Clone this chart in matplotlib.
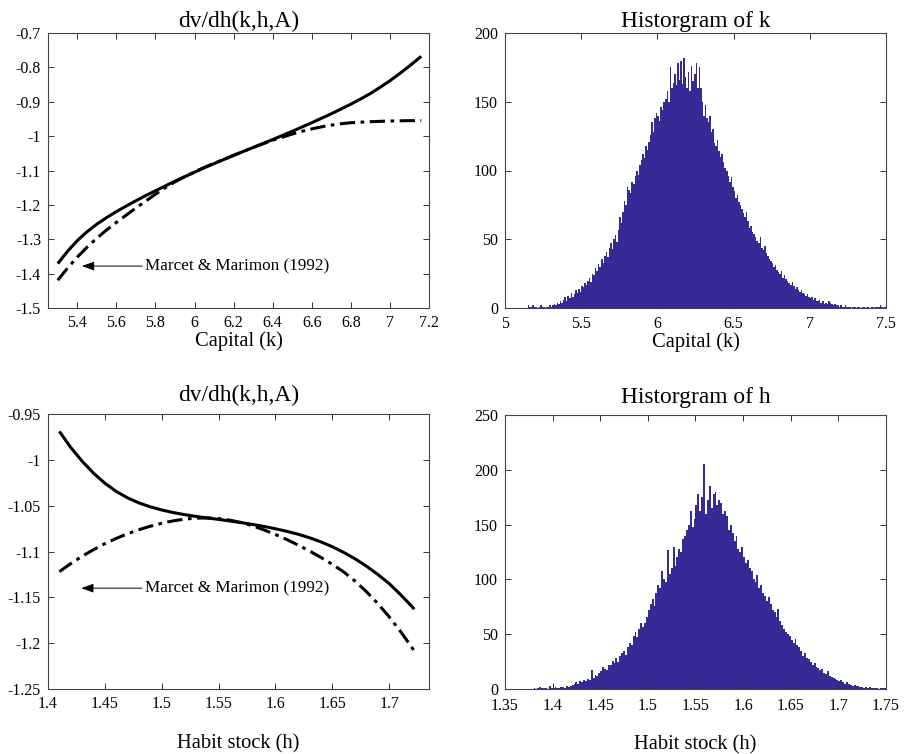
import numpy as np
import matplotlib
matplotlib.use("Agg")
import matplotlib.pyplot as plt
from matplotlib.ticker import FuncFormatter, MultipleLocator

plt.rcParams['font.family'] = ['Liberation Serif', 'DejaVu Serif']

# ---------------- data ----------------
k_grid = [5.30, 5.35, 5.40, 5.45, 5.50, 5.55, 5.60, 5.65, 5.70, 5.75, 5.80,
          5.85, 5.90, 5.95, 6.00, 6.05, 6.10, 6.15, 6.20, 6.25, 6.30, 6.35,
          6.40, 6.45, 6.50, 6.55, 6.60, 6.65, 6.70, 6.75, 6.80, 6.85, 6.90,
          6.95, 7.00, 7.05, 7.10, 7.16]
dvdh_k_solid = [-1.371, -1.335, -1.304, -1.278, -1.256, -1.237, -1.2195,
                -1.2035, -1.188, -1.173, -1.159, -1.145, -1.131, -1.118,
                -1.105, -1.092, -1.080, -1.068, -1.056, -1.0445, -1.033,
                -1.0215, -1.010, -0.998, -0.986, -0.9735, -0.961, -0.948,
                -0.935, -0.921, -0.907, -0.892, -0.876, -0.858, -0.839,
                -0.818, -0.796, -0.768]
dvdh_k_mm = [-1.419, -1.384, -1.352, -1.323, -1.297, -1.273, -1.251, -1.230,
             -1.209, -1.189, -1.169, -1.150, -1.133, -1.118, -1.104, -1.091,
             -1.079, -1.0675, -1.056, -1.0445, -1.033, -1.0225, -1.012,
             -1.003, -0.994, -0.986, -0.979, -0.973, -0.968, -0.964, -0.961,
             -0.9595, -0.958, -0.957, -0.956, -0.9555, -0.955, -0.955]

h_grid = [1.41, 1.42, 1.43, 1.44, 1.45, 1.46, 1.47, 1.48, 1.49, 1.50, 1.51,
          1.52, 1.53, 1.54, 1.55, 1.56, 1.57, 1.58, 1.59, 1.60, 1.61, 1.62,
          1.63, 1.64, 1.65, 1.66, 1.67, 1.68, 1.69, 1.70, 1.71, 1.72, 1.722]
dvdh_h_solid = [-0.969, -0.9865, -1.0015, -1.0145, -1.0255, -1.0345, -1.0415,
                -1.0470, -1.0513, -1.0547, -1.0575, -1.0598, -1.0617, -1.0634,
                -1.0650, -1.0667, -1.0685, -1.0705, -1.0727, -1.0752, -1.0780,
                -1.0812, -1.0850, -1.0895, -1.0948, -1.1010, -1.1080, -1.1160,
                -1.1250, -1.1350, -1.1470, -1.1600, -1.1630]
dvdh_h_mm = [-1.122, -1.1132, -1.1052, -1.0980, -1.0915, -1.0857, -1.0806,
             -1.0762, -1.0724, -1.0692, -1.0666, -1.0647, -1.0636, -1.0634,
             -1.0641, -1.0658, -1.0685, -1.0720, -1.0765, -1.0815, -1.0870,
             -1.0930, -1.0995, -1.1065, -1.1140, -1.1223, -1.1323, -1.1438,
             -1.1568, -1.1713, -1.1873, -1.2048, -1.2085]

# histogram of k: bins of width 0.01 starting at 5.15
k_bin_start = 5.15
k_bin_width = 0.01
k_counts = [
    2, 1, 1, 2, 1, 1, 0, 1, 2, 1,
    1, 0, 1, 1, 2, 1, 2, 3, 2, 4,
    3, 5, 4, 6, 8, 5, 9, 7, 11, 8,
    10, 13, 11, 14, 12, 16, 15, 18, 17, 20,
    22, 19, 25, 24, 29, 27, 32, 30, 36, 33,
    38, 41, 37, 44, 47, 43, 50, 53, 48, 57,
    66, 62, 70, 78, 75, 88, 86, 84, 92, 90,
    96, 100, 97, 104, 108, 112, 109, 118, 115, 121,
    126, 135, 128, 138, 142, 140, 136, 146, 144, 150,
    152, 158, 150, 175, 160, 164, 170, 162, 178, 166,
    180, 163, 182, 168, 160, 172, 158, 176, 165, 170,
    178, 160, 175, 160, 150, 140, 148, 138, 135, 140,
    128, 130, 120, 118, 122, 114, 110, 112, 106, 102,
    100, 96, 92, 95, 88, 85, 80, 82, 77, 75,
    72, 69, 66, 70, 63, 58, 60, 55, 54, 52,
    49, 47, 52, 44, 42, 45, 40, 38, 36, 34,
    33, 30, 31, 28, 26, 25, 27, 22, 24, 21,
    20, 18, 17, 19, 16, 14, 15, 13, 12, 13,
    11, 10, 9, 10, 8, 7, 8, 6, 7, 5,
    5, 6, 4, 5, 3, 4, 3, 5, 4, 3,
    2, 3, 2, 2, 1, 2, 1, 1, 2, 1,
    1, 1, 0, 1, 1, 0, 1, 1, 0, 1,
    1, 0, 1, 1, 0, 1, 1, 0, 1, 1,
    1, 2, 1, 0, 1,
]

# histogram of h: bins of width 0.002 starting at 1.38
h_bin_start = 1.38
h_bin_width = 0.002
h_counts = [
    1, 0, 1, 2, 1,
    1, 1, 0, 3, 1,
    1, 2, 1, 1, 2,
    2, 1, 3, 2, 3,
    4, 5, 6, 5, 7,
    6, 8, 7, 9, 8,
    17, 10, 13, 12, 15,
    16, 20, 18, 17, 22,
    22, 26, 24, 28, 25,
    30, 33, 35, 31, 38,
    42, 40, 48, 52, 47,
    55, 60, 57, 60, 66,
    72, 78, 82, 76, 88,
    95, 92, 108, 100, 98,
    127, 105, 110, 130, 112,
    120, 128, 125, 137, 140,
    145, 150, 162, 148, 155,
    168, 178, 162, 175, 205,
    160, 172, 185, 165, 178,
    180, 168, 172, 170, 160,
    162, 158, 145, 150, 142,
    135, 140, 128, 125, 130,
    120, 115, 118, 110, 108,
    100, 98, 104, 92, 95,
    88, 85, 80, 84, 78,
    72, 70, 66, 73, 62,
    58, 55, 52, 50, 48,
    45, 42, 46, 40, 38,
    35, 30, 33, 28, 27,
    25, 22, 24, 20, 19,
    17, 18, 15, 14, 16,
    12, 11, 10, 9, 8,
    7, 8, 6, 5, 6,
    5, 4, 3, 4, 3,
    3, 2, 2, 1, 2,
    1, 2, 1, 1, 1,
    1, 0, 1, 1, 1,
]

label_mm = 'Marcet & Marimon (1992)'
hist_color = '#352a96'

# ---------------- figure ----------------
fig = plt.figure(figsize=(9.08, 7.54), dpi=100)
W, H = 908, 754


def ax_at(l, t, r, b):
    return fig.add_axes([l / W, 1 - b / H, (r - l) / W, (b - t) / H])


fmt = FuncFormatter(lambda v, p: ('%g' % round(v, 4)))

TITLE_FS = 16.8
LABEL_FS = 14.8
TICK_FS = 11.5
ANN_FS = 12.3


def style(ax, xpad=5):
    ax.tick_params(direction='in', top=True, right=True, length=4,
                   width=0.7, labelsize=TICK_FS, colors='#333333',
                   labelcolor='black', pad=5)
    ax.tick_params(axis='x', pad=xpad)
    for s in ax.spines.values():
        s.set_color('#444444')
        s.set_linewidth(0.8)
    ax.xaxis.set_major_formatter(fmt)
    ax.yaxis.set_major_formatter(fmt)


dash_style = dict(color='black', lw=2.2, dashes=[5, 1.8, 1.2, 1.8])
solid_style = dict(color='black', lw=2.2, solid_capstyle='butt')
arrow_props = dict(arrowstyle='-|>,head_length=0.6,head_width=0.22',
                   color='black', lw=0.7, shrinkA=0, shrinkB=0)

# top-left
ax1 = ax_at(48, 33, 429, 308)
ax1.plot(k_grid, dvdh_k_solid, **solid_style)
ax1.plot(k_grid, dvdh_k_mm, **dash_style)
ax1.set_xlim(5.25, 7.2)
ax1.set_ylim(-1.5, -0.7)
ax1.set_xticks(np.arange(5.4, 7.21, 0.2))
ax1.yaxis.set_major_locator(MultipleLocator(0.1))
style(ax1)
ax1.set_title('dv/dh(k,h,A)', fontsize=TITLE_FS, pad=4)
ax1.set_xlabel('Capital (k)', fontsize=LABEL_FS, labelpad=0)
ax1.annotate(label_mm, xy=(5.424, -1.378), xytext=(5.747, -1.378),
             fontsize=ANN_FS, va='center', ha='left', arrowprops=arrow_props)

# top-right
ax2 = ax_at(505, 33, 886, 308)
k_edges = k_bin_start + k_bin_width * np.arange(len(k_counts))
ax2.bar(k_edges, k_counts, width=k_bin_width, align='edge',
        color=hist_color, linewidth=0)
ax2.plot([k_bin_start, 7.5], [0, 0], color=hist_color, lw=1.0)
ax2.set_xlim(5, 7.5)
ax2.set_ylim(0, 200)
ax2.xaxis.set_major_locator(MultipleLocator(0.5))
ax2.yaxis.set_major_locator(MultipleLocator(50))
style(ax2, xpad=6)
ax2.set_title('Historgram of k', fontsize=TITLE_FS, pad=4)
ax2.set_xlabel('Capital (k)', fontsize=LABEL_FS, labelpad=0)

# bottom-left
ax3 = ax_at(48, 414, 429, 689)
ax3.plot(h_grid, dvdh_h_solid, **solid_style)
ax3.plot(h_grid, dvdh_h_mm, **dash_style)
ax3.set_xlim(1.4, 1.735)
ax3.set_ylim(-1.25, -0.95)
ax3.set_xticks(np.arange(1.4, 1.701, 0.05))
ax3.yaxis.set_major_locator(MultipleLocator(0.05))
style(ax3)
ax3.set_title('dv/dh(k,h,A)', fontsize=TITLE_FS, pad=9)
ax3.set_xlabel('Habit stock (h)', fontsize=LABEL_FS, labelpad=16)
ax3.annotate(label_mm, xy=(1.4293, -1.140), xytext=(1.485, -1.140),
             fontsize=ANN_FS, va='center', ha='left', arrowprops=arrow_props)

# bottom-right
ax4 = ax_at(505, 415, 886, 689)
h_edges = h_bin_start + h_bin_width * np.arange(len(h_counts))
ax4.bar(h_edges, h_counts, width=h_bin_width, align='edge',
        color=hist_color, linewidth=0)
ax4.plot([h_bin_start, 1.75], [0, 0], color=hist_color, lw=1.0)
ax4.set_xlim(1.35, 1.75)
ax4.set_ylim(0, 250)
ax4.set_xticks(np.arange(1.35, 1.751, 0.05))
ax4.yaxis.set_major_locator(MultipleLocator(50))
style(ax4, xpad=6.5)
ax4.set_title('Historgram of h', fontsize=TITLE_FS, pad=9)
ax4.set_xlabel('Habit stock (h)', fontsize=LABEL_FS, labelpad=15)

fig.savefig('out.png', dpi=100)
